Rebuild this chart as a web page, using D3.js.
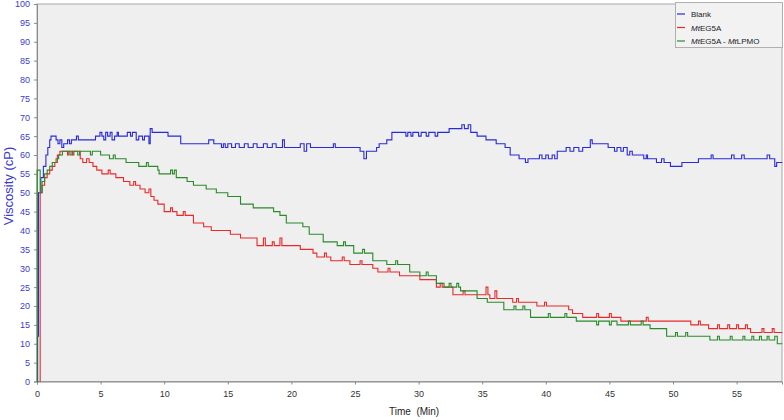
<!DOCTYPE html>
<html><head><meta charset="utf-8">
<script src="https://cdn.jsdelivr.net/npm/d3@7"></script>
<style>
html,body{margin:0;padding:0;background:#fff;}
svg{display:block;}
text{font-family:"Liberation Sans",Arial,sans-serif;}
</style></head>
<body>
<svg id="chart" width="784" height="420"></svg>
<script>
// ---- data ----
const xTicks = [0,5,10,15,20,25,30,35,40,45,50,55];
const yTicks = [0,5,10,15,20,25,30,35,40,45,50,55,60,65,70,75,80,85,90,95,100];

const blankTime = [0,0.05,0.12,0.3,0.5,0.7,0.85,1.0,1.1,1.5,1.65,1.8,1.95,2.1,2.4,2.55,2.7,3.1,3.25,4.6,4.95,5.1,5.25,5.4,5.55,5.75,5.9,6.1,6.3,6.4,7.1,7.35,7.5,7.8,8.0,8.3,8.45,8.8,8.9,9.05,10.3,10.7,11.3,13.5,13.9,14.5,14.65,14.8,15.0,15.3,15.6,15.9,16.3,16.6,17.0,17.3,17.8,18.1,18.5,18.8,19.3,19.45,20.7,21.0,21.2,21.5,23.3,23.45,25.4,25.7,25.9,26.7,26.9,27.5,27.9,29.0,29.15,29.4,29.55,30.0,30.2,30.6,30.8,31.3,31.5,32.4,33.4,33.6,33.9,34.1,34.6,35.3,36.1,36.8,37.2,37.9,38.4,38.6,39.5,39.7,40.0,40.2,40.5,40.7,40.9,41.6,41.9,42.2,42.6,42.9,43.5,43.65,44.9,45.4,45.6,45.9,46.1,46.4,46.6,46.8,47.7,47.9,48.0,48.7,49.1,49.3,49.8,50.5,50.7,52.0,53.0,53.15,54.6,54.8,55.4,55.6,57.4,57.6,58.0,58.15,58.6];
const blankVisc = [0,12,50,54,57,60,62,64,65,64,63,64,62,63,64,63,64,65,64,65,66,65,64,66,65,66,64,65,66,65,66,65,66,64,65,64,65,63,67,66,65,65,63,64,63,62,63,62,63,62,63,62,63,62,63,62,63,62,63,62,64,62,63,61,63,62,63,62,61,59,61,62,63,64,66,65,66,65,66,65,66,65,66,65,66,67,68,67,68,66,65,64,63,62,60,59,58,59,60,59,60,59,60,59,61,62,61,62,61,62,64,63,62,61,62,61,62,60,61,60,59,60,59,58,59,58,57,57,58,59,60,59,60,59,60,59,60,59,57,58,58];

const eg5aTime = [0.2,0.25,0.4,0.6,0.8,1.0,1.2,1.4,1.6,1.8,2.4,2.5,2.8,2.9,3.4,3.6,3.9,4.1,4.4,4.7,5.1,5.6,5.75,6.2,6.8,7.3,7.6,7.75,8.1,8.5,8.8,8.95,9.2,9.5,10.0,10.5,10.65,11.0,11.5,11.65,12.3,13.1,13.7,15.2,16.0,17.3,17.8,17.95,18.5,18.65,19.1,19.25,20.7,21.7,22.0,22.6,22.75,23.1,24.0,24.15,24.6,25.4,25.55,26.4,26.8,27.6,27.75,28.5,30.1,31.4,31.7,31.85,32.7,33.5,33.65,35.3,35.45,35.6,36.0,36.15,37.4,37.7,37.85,39.3,39.9,40.05,41.8,42.1,42.9,44.0,44.15,45.0,45.15,45.9,47.9,48.05,51.4,52.0,52.15,52.8,53.5,53.65,54.3,54.45,55.0,55.15,55.7,55.85,56.1,57.0,57.15,57.8,57.95,58.6];
const eg5aVisc = [0,50,52,54,55,56,57,58,60,61,60,61,60,61,59,58,59,58,57,56,55,56,55,54,53,52,53,52,51,50,51,49,48,47,45,46,45,44,45,44,42,41,40,39,38,36,38,36,37,36,38,36,35,34,33,34,33,32,33,32,31,32,31,30,29,30,29,28,27,25,26,25,23,24,23,25,23,22,24,22,21,22,21,20,21,20,19,18,17,18,17,18,17,16,17,16,15,16,15,14,15,14,15,14,15,14,15,14,13,14,13,14,13,13];

const lpmoTime = [0,0.01,0.25,0.4,0.6,0.8,1.0,1.2,1.5,1.7,2.0,2.6,2.75,3.2,3.35,4.2,4.35,5.0,5.7,6.0,6.15,7.0,7.3,8.0,8.6,8.75,9.5,9.6,10.5,10.65,10.8,10.95,11.8,12.3,13.3,14.1,15.0,16.0,17.0,18.6,19.1,19.6,20.9,21.4,22.5,23.6,24.1,24.25,24.9,25.6,25.75,26.4,27.5,28.2,28.35,29.3,30.1,30.6,30.75,31.4,32.0,32.4,32.55,33.0,33.15,33.3,34.6,35.4,36.7,37.5,37.65,38.2,38.35,38.8,40.2,40.35,41.5,41.65,42.4,44.0,44.15,45.0,45.15,45.6,46.5,46.65,47.5,47.65,48.2,49.5,50.2,50.35,51.0,51.15,52.9,53.5,53.65,54.5,54.65,55.5,55.65,56.2,56.35,56.8,56.95,57.4,57.55,58.0,58.2,58.6];
const lpmoVisc = [0,56,50,53,55,56,57,58,59,60,61,60,61,60,61,60,61,60,59,60,59,58,58,57,58,57,56,55,56,55,56,54,53,52,51,50,49,47,46,45,44,42,41,39,37,36,37,36,34,35,34,32,31,32,31,29,28,29,28,26,25,26,25,26,25,24,22,21,19,20,19,20,19,17,18,17,18,17,16,15,16,15,16,15,16,15,16,15,14,12,13,12,13,12,11,12,11,12,11,12,11,12,11,12,11,12,11,12,10,10];

const seriesNames = ["Blank","EG5A","EG5A - LPMO"];
const seriesColors = ["#2a2ad6","#e82a2a","#2a8a2a"];

// ---- layout ----
const svg = d3.select("#chart");
const L = 37, R = 782, T = 4, B = 381.5;
const x = d3.scaleLinear().domain([0,58.57]).range([L,R]);
const y = d3.scaleLinear().domain([0,100]).range([B,T]);

svg.append("rect").attr("x",L).attr("y",T).attr("width",R-L).attr("height",B-T)
  .attr("fill","#efefef").attr("stroke","#a8a8a8").attr("stroke-width",1);

// axes
const yAxis = d3.axisLeft(y).tickValues(yTicks).tickSize(3).tickPadding(4);
const gy = svg.append("g").attr("transform",`translate(${L},0)`).call(yAxis);
gy.select(".domain").attr("stroke","#8a8a8a");
gy.selectAll(".tick line").attr("stroke","#8a8a8a");
gy.selectAll(".tick text").attr("fill","#3c3ccc").attr("font-size","9px").attr("font-family","Liberation Sans, Arial, sans-serif");

const xAxis = d3.axisBottom(x).tickValues(xTicks).tickSize(3).tickPadding(6);
const gx = svg.append("g").attr("transform",`translate(0,${B})`).call(xAxis);
gx.select(".domain").attr("stroke","#8a8a8a");
gx.selectAll(".tick line").attr("stroke","#8a8a8a");
gx.selectAll(".tick text").attr("fill","#333").attr("font-size","9px").attr("font-family","Liberation Sans, Arial, sans-serif");

// titles
svg.append("text").attr("transform","translate(13,186) rotate(-90)")
  .attr("text-anchor","middle").attr("fill","#3c3ccc").attr("font-size","13px").text("Viscosity (cP)");
svg.append("text").attr("x",389).attr("y",415).attr("fill","#222").attr("font-size","10px")
  .attr("xml:space","preserve").style("white-space","pre").text("Time  (Min)");

// lines
const series = [
  {t: blankTime, v: blankVisc},
  {t: eg5aTime, v: eg5aVisc},
  {t: lpmoTime, v: lpmoVisc}
];
const line = d3.line().x(d=>x(d[0])).y(d=>y(d[1])).curve(d3.curveStepAfter);
const order = [0,1,2];
order.forEach(i=>{
  const pts = series[i].t.map((t,k)=>[t,series[i].v[k]]);
  svg.append("path").datum(pts).attr("d",line).attr("fill","none")
    .attr("stroke",seriesColors[i]).attr("stroke-width",1.1);
});

// legend
const lg = svg.append("g");
lg.append("rect").attr("x",675.5).attr("y",2.5).attr("width",107).attr("height",45)
  .attr("fill","#f2f2f2").attr("stroke","#b0b0b0");
const labels = [
  [{t:"Blank",i:false}],
  [{t:"Mt",i:true},{t:"EG5A",i:false}],
  [{t:"Mt",i:true},{t:"EG5A - ",i:false},{t:"Mt",i:true},{t:"LPMO",i:false}]
];
labels.forEach((parts,k)=>{
  const yy = 14 + k*13.5;
  lg.append("line").attr("x1",677).attr("x2",685).attr("y1",yy).attr("y2",yy)
    .attr("stroke",seriesColors[k]).attr("stroke-width",1.2);
  const tx = lg.append("text").attr("x",691).attr("y",yy+3).attr("font-size","8px").attr("fill","#222")
    .style("white-space","pre");
  parts.forEach(p=>tx.append("tspan").attr("font-style",p.i?"italic":"normal").text(p.t));
});
</script>
</body></html>
